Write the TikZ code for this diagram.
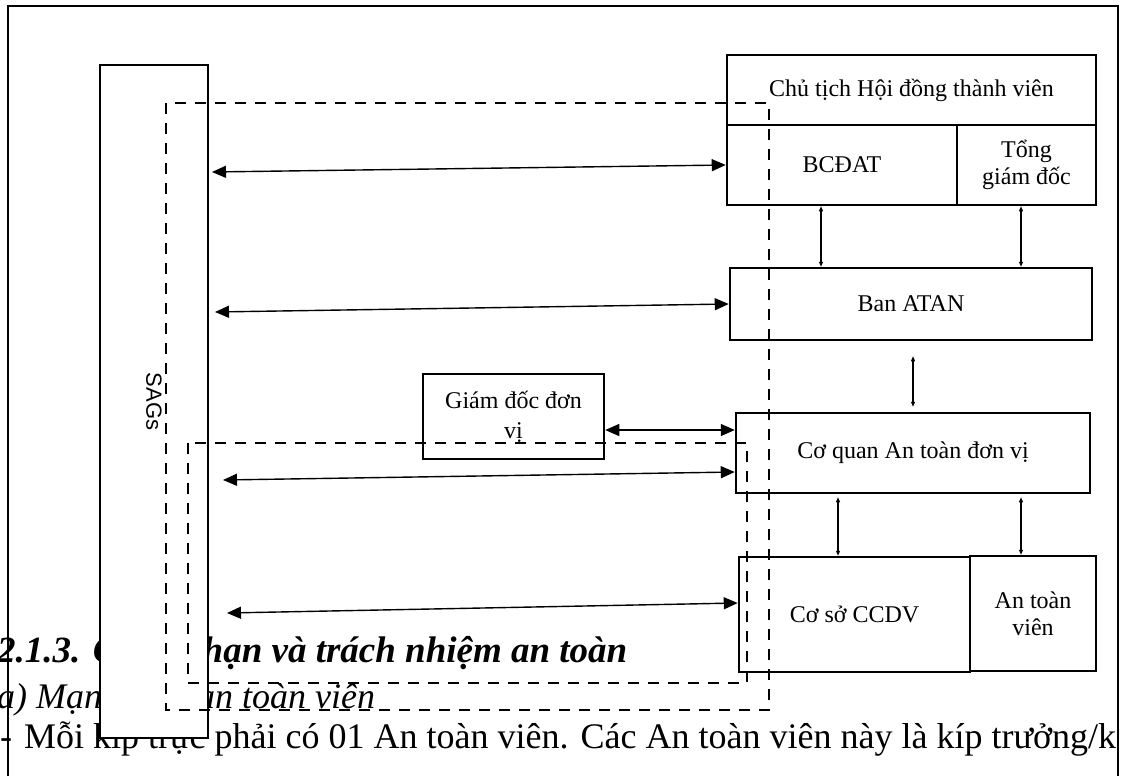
\documentclass[tikz,border=0pt]{standalone}
\usepackage{fontspec}
\setmainfont{Liberation Serif}
\newfontfamily\sagsfont{Liberation Sans}
\usetikzlibrary{arrows.meta,calc}
\begin{document}
\begin{tikzpicture}[x=1pt,y=-1pt,
  boxn/.style={draw,line width=2.5pt,fill=white,inner sep=0pt,align=center,
    font=\fontsize{24}{27}\selectfont},
  dashbox/.style={line width=2.5pt,dash pattern=on 11pt off 9pt},
  harr/.style={line width=1.4pt,{Triangle[length=14pt,width=12pt]}-{Triangle[length=14pt,width=12pt]}},
  varr/.style={line width=1.1pt,{Triangle[length=5pt,width=4pt]}-{Triangle[length=5pt,width=4pt]}},
  txt/.style={anchor=base west,inner sep=0pt},
  frame/.style={line width=2.2pt}]
\useasboundingbox (0,0) rectangle (1121,776);
\clip (0,0) rectangle (1121,776);
\fill[white] (0,0) rectangle (1121,776);

% running text of the page
\node[txt,font=\fontsize{37}{44}\selectfont\bfseries\itshape] (h1) at (-3,662) {2.1.3. Quyền hạn và trách nhiệm an toàn};
\node[txt,font=\fontsize{36}{43}\selectfont\itshape] (h2) at (-3,708) {a) Mạng lưới an toàn viên};
\node[txt,font=\fontsize{36}{43}\selectfont] (h3) at (0,748) {-\hspace{12pt}Mỗi kíp trực phải có 01 An toàn viên. Các An toàn viên này là kíp trưởng/k};

% SAGs column
\node[boxn,rotate=-90,minimum width=673pt,minimum height=108pt,font=\sagsfont\fontsize{22}{26}\selectfont] (sags) at (154,401.5) {SAGs};

% boxes
\node[boxn,minimum width=369pt,minimum height=70pt] (cttv) at (911.5,90) {Chủ tịch Hội đồng thành viên};
\node[boxn,minimum width=230pt,minimum height=80pt] (bcdat) at (842,165) {BCĐAT};
\node[boxn,minimum width=139pt,minimum height=80pt] (tgd) at (1026.5,165) {Tổng\\giám đốc};
\node[boxn,minimum width=362pt,minimum height=72pt] (ban) at (911,304) {Ban ATAN};
\node[boxn,minimum width=354pt,minimum height=80pt] (cq) at (913,453) {Cơ quan An toàn đơn vị};
\node[boxn,minimum width=231pt,minimum height=115pt] (ccdv) at (854.5,614.5) {Cơ sở CCDV};
\node[boxn,minimum width=126pt,minimum height=115pt] (atv) at (1033,613.5) {An toàn\\viên};
\node[boxn,minimum width=181pt,minimum height=85pt,font=\fontsize{24}{30}\selectfont] (gd) at (513.5,416.5) {Giám đốc đơn\\vị};

% dashed groupings
\draw[dashbox] (166,103) rectangle (769,710);
\draw[dashbox] (188,443) rectangle (747,683);

% horizontal connectors
\coordinate (l1) at (212,172);
\coordinate (l2) at (215,312);
\coordinate (l4) at (223,480);
\coordinate (l5) at (227,613);
\coordinate (y3) at (0,430);
\coordinate (y4) at (0,472);
\coordinate (y5) at (0,603);
\draw[harr] (l1) -- (bcdat.west);
\draw[harr] (l2) -- (ban.west);
\draw[harr] (gd.east |- y3) -- (cq.west |- y3);
\draw[harr] (l4) -- (cq.west |- y4);
\draw[harr] (l5) -- (ccdv.west |- y5);

% vertical connectors
\coordinate (v1) at (821,0);
\coordinate (v2) at (1021,0);
\coordinate (v3) at (913,0);
\coordinate (v4) at (838,0);
\draw[varr] (bcdat.south -| v1) -- (ban.north -| v1);
\draw[varr] (tgd.south -| v2) -- (ban.north -| v2);
\draw[varr,shorten <=15pt,shorten >=5pt] (ban.south -| v3) -- (cq.north -| v3);
\draw[varr,shorten >=3pt] (ccdv.north -| v4) -- (cq.south -| v4);
\draw[varr,shorten >=3pt] (atv.north -| v2) -- (cq.south -| v2);

% page frame
\draw[frame] (8,776) -- (8,6) -- (1118,6) -- (1118,776);
\end{tikzpicture}
\end{document}
